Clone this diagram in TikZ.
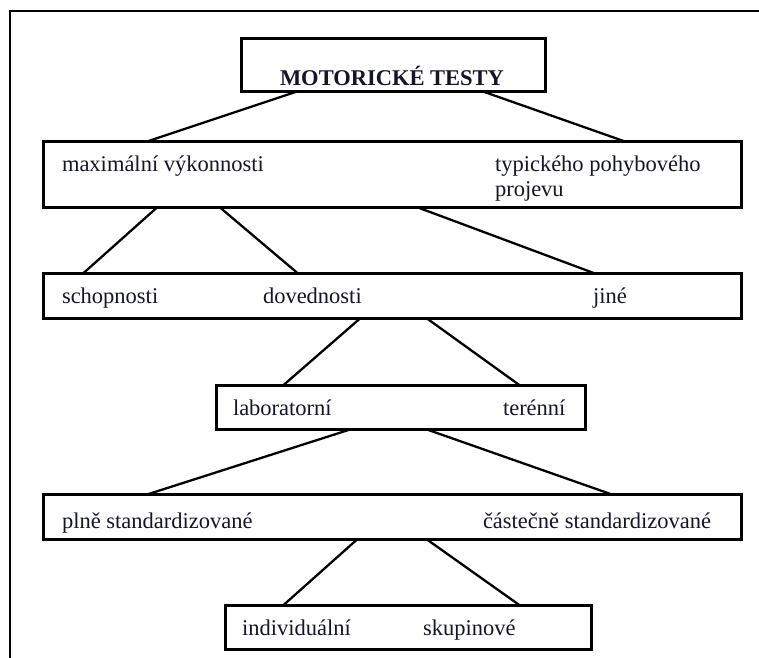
\documentclass[tikz,border=0pt]{standalone}
\usepackage{fontspec}
\setmainfont{Liberation Serif}
\usetikzlibrary{calc}
\definecolor{txt}{HTML}{15152A}
\tikzset{
  box/.style={draw=black, line width=3.7pt, inner sep=0pt, outer sep=0pt, rectangle},
  lbl/.style={anchor=base west, inner sep=0pt, outer sep=0pt, text=txt, font=\fontsize{22.5}{25}\selectfont},
  conn/.style={draw=black, line width=2.3pt},
  frameline/.style={draw=black, line width=2pt}
}
\begin{document}
\begin{tikzpicture}[x=1pt,y=-1pt]
\useasboundingbox (0,0) rectangle (759,657);
\fill[white] (0,0) rectangle (759,657);
% outer frame (open to right and bottom)
\coordinate (fTL) at (10,11);
\coordinate (fR) at (760,11);
\coordinate (fB) at (10,658);
\draw[frameline] (fB) -- (fTL) -- (fR);
% boxes
\node[box, minimum width=304pt, minimum height=53pt] (b1) at (393.5,65) {};
\node[box, minimum width=698pt, minimum height=66pt] (b2) at (392.5,174.5) {};
\node[box, minimum width=698pt, minimum height=45pt] (b3) at (392.5,296) {};
\node[box, minimum width=369pt, minimum height=44pt] (b4) at (401,407.5) {};
\node[box, minimum width=698pt, minimum height=45pt] (b5) at (392.5,517) {};
\node[box, minimum width=366pt, minimum height=44pt] (b6) at (408.5,627.5) {};
% labels
\node[lbl, font=\bfseries\fontsize{22.5}{25}\selectfont] (t1) at (280,85) {MOTORICKÉ TESTY};
\node[lbl] (t2a) at (62,171) {maximální výkonnosti};
\node[lbl, align=left] (t2b) at (495,196) {typického pohybového\\projevu};
\node[lbl] (t3a) at (62,303) {schopnosti};
\node[lbl] (t3b) at (263,303) {dovednosti};
\node[lbl] (t3c) at (593,303) {jiné};
\node[lbl] (t4a) at (233,415) {laboratorní};
\node[lbl] (t4b) at (503,415) {terénní};
\node[lbl] (t5a) at (62,528) {plně standardizované};
\node[lbl] (t5b) at (483,528) {částečně standardizované};
\node[lbl] (t6a) at (242,635) {individuální};
\node[lbl] (t6b) at (423,635) {skupinové};
% connectors
\draw[conn] ([xshift=55.5pt]b1.south west) -- ([xshift=103.5pt]b2.north west);
\draw[conn] ([xshift=241.5pt]b1.south west) -- ([xshift=581.5pt]b2.north west);
\draw[conn] ([xshift=113.5pt]b2.south west) -- ([xshift=39.5pt]b3.north west);
\draw[conn] ([xshift=176.5pt]b2.south west) -- ([xshift=254.5pt]b3.north west);
\draw[conn] ([xshift=374.5pt]b2.south west) -- ([xshift=551.5pt]b3.north west);
\draw[conn] ([xshift=316.5pt]b3.south west) -- ([xshift=66.5pt]b4.north west);
\draw[conn] ([xshift=383.5pt]b3.south west) -- ([xshift=303.5pt]b4.north west);
\draw[conn] ([xshift=133.5pt]b4.south west) -- ([xshift=103.5pt]b5.north west);
\draw[conn] ([xshift=210.5pt]b4.south west) -- ([xshift=568.5pt]b5.north west);
\draw[conn] ([xshift=313.5pt]b5.south west) -- ([xshift=57.5pt]b6.north west);
\draw[conn] ([xshift=383.5pt]b5.south west) -- ([xshift=294.5pt]b6.north west);
\end{tikzpicture}
\end{document}
